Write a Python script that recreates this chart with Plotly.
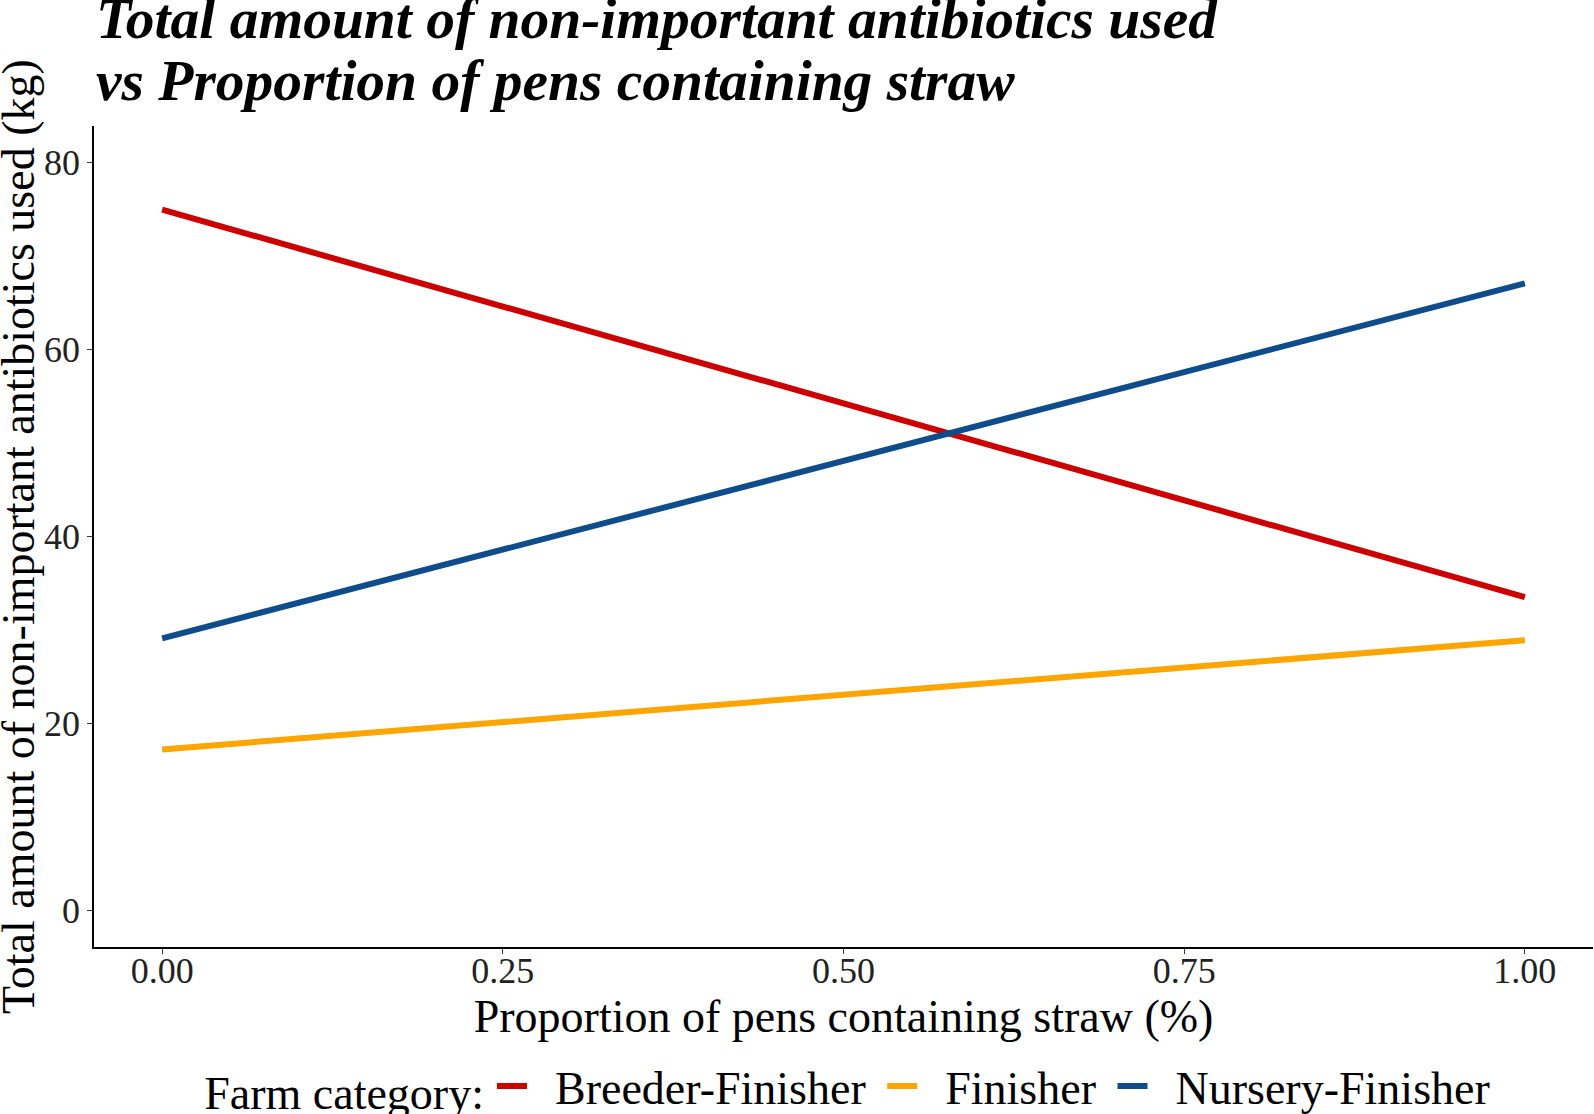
import plotly.graph_objects as go

# Data (regression end points)
categories = ["Breeder-Finisher", "Finisher", "Nursery-Finisher"]
x_vals = [0.0, 1.0]
breeder_finisher = [75.0, 33.5]
finisher = [17.2, 28.9]
nursery_finisher = [29.1, 67.1]
colors = ["#CC0000", "#FFA500", "#0F4C8C"]
x_ticks = [0.0, 0.25, 0.5, 0.75, 1.0]
x_ticklabels = ["0.00", "0.25", "0.50", "0.75", "1.00"]
y_ticks = [0, 20, 40, 60, 80]
title_lines = ["Total amount of non-important antibiotics used",
               "vs Proportion of pens containing straw"]
x_title = "Proportion of pens containing straw (%)"
y_title = "Total amount of non-important antibiotics used (kg)"
legend_title = "Farm category:"

series = [breeder_finisher, finisher, nursery_finisher]

NBSP = "\u00a0"
fig = go.Figure()
for name, ys, c in zip(categories, series, colors):
    fig.add_trace(go.Scatter(x=x_vals, y=ys, mode="lines",
                             name=NBSP * 2 + name + NBSP,
                             line=dict(color=c, width=6)))

font = "Liberation Serif, Times New Roman, serif"
for txt, yy in zip(title_lines, [1.1315, 1.0555]):
    fig.add_annotation(text="<b><i>" + txt + "</i></b>", xref="paper", yref="paper",
                       x=0.0, y=yy, xanchor="left", yanchor="middle", showarrow=False,
                       font=dict(family=font, size=57.5, color="black"))

# y-axis title as a rotated annotation (axis titles get clamped inside the margin)
fig.add_annotation(text=y_title, xref="paper", yref="paper",
                   x=-0.0503, y=0.5, xanchor="center", yanchor="middle",
                   textangle=-90, showarrow=False,
                   font=dict(family=font, size=46, color="black"))

fig.update_layout(
    width=1594, height=1114,
    paper_bgcolor="white", plot_bgcolor="white",
    margin=dict(l=93.5, r=1, t=126, b=166.5, autoexpand=False),
    font=dict(family=font, color="black"),
    showlegend=True,
    xaxis=dict(
        range=[-0.05, 1.05], tickvals=x_ticks, ticktext=x_ticklabels,
        showgrid=False, zeroline=False, showline=True, linecolor="black", linewidth=1.5,
        ticks="outside", ticklen=5, tickcolor="#333333", tickwidth=1.2,
        tickfont=dict(family=font, size=36, color="#222222"), automargin=False,
        ticklabelstandoff=-14,
        title=dict(text=x_title,
                   font=dict(family=font, size=46, color="black"), standoff=1),
    ),
    yaxis=dict(
        range=[-3.95, 83.95], tickvals=y_ticks,
        showgrid=False, zeroline=False, showline=True, linecolor="black", linewidth=1.5,
        ticks="outside", ticklen=5, tickcolor="#333333", tickwidth=1.2,
        tickfont=dict(family=font, size=36, color="#222222"), automargin=False,
    ),
    legend=dict(
        orientation="h", x=0.5075, xanchor="center", xref="paper",
        y=0.025, yanchor="middle", yref="container",
        title=dict(text=legend_title, side="left", font=dict(family=font, size=46)),
        font=dict(family=font, size=46, color="black"),
        bgcolor="rgba(0,0,0,0)",
    ),
)

fig.write_html("out.html", config={"displayModeBar": False},
               post_script="document.body.style.margin='0px';document.body.style.overflow='hidden';")
